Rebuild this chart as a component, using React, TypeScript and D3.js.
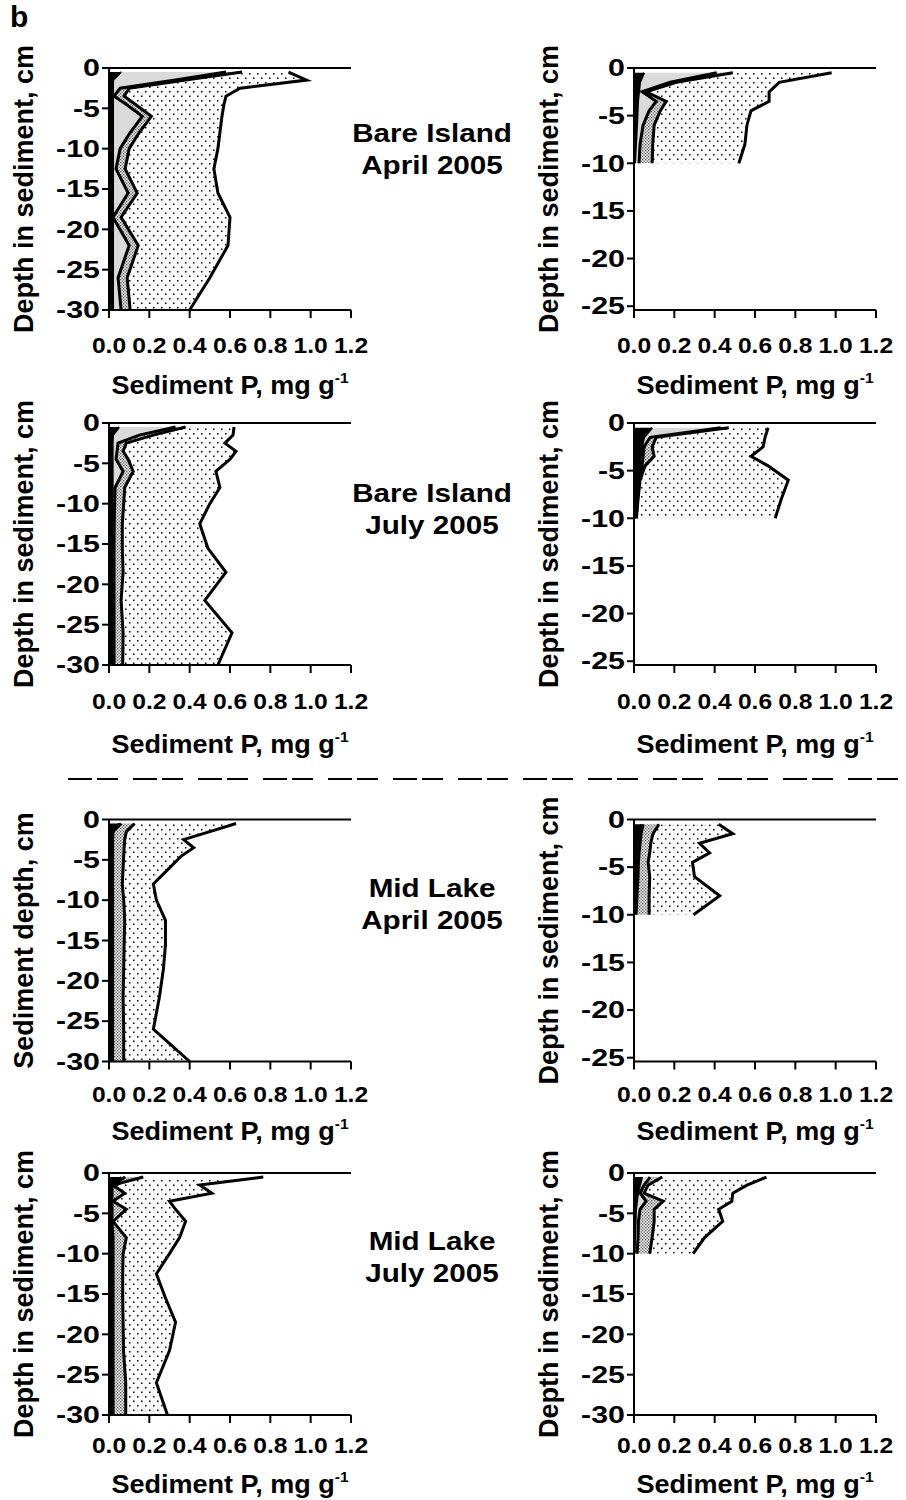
import React from "react";
import * as d3 from "d3";

// depth of each slice mid-point, cm below sediment surface
const depth30 = [0.5, 1.5, 2.5, 3.5, 4.5, 6, 8, 10, 12.5, 15.5, 18.5, 22, 26, 30];
const depth10 = [0.5, 1.5, 2.5, 3.5, 4.5, 6, 8, 10];

const xTicks = [0, 0.2, 0.4, 0.6, 0.8, 1.0, 1.2];
const yTicks30 = [0, -5, -10, -15, -20, -25, -30];
const yTicks25 = [0, -5, -10, -15, -20, -25];

// cumulative sediment P, mg g-1 : black / grey / crosshatch / dotted (total)
// Bare Island, April 2005
const biAprLBlack = [0.06, 0.02, 0.02, 0.02, 0.02, 0.02, 0.02, 0.02, 0.02, 0.02, 0.02, 0.02, 0.02, 0.02];
const biAprLGrey = [0.58, 0.33, 0.055, 0.025, 0.085, 0.165, 0.105, 0.055, 0.035, 0.095, 0.02, 0.1, 0.045, 0.06];
const biAprLHatch = [0.66, 0.38, 0.1, 0.075, 0.13, 0.21, 0.15, 0.1, 0.08, 0.14, 0.06, 0.145, 0.09, 0.105];
const biAprLTotal = [0.89, 0.98, 0.65, 0.58, 0.57, 0.56, 0.55, 0.54, 0.52, 0.54, 0.6, 0.59, 0.5, 0.4];

const biAprRBlack = [0.05, 0.03, 0.025, 0.02, 0.018, 0.015, 0.01, 0.005];
const biAprRGrey = [0.41, 0.18, 0.04, 0.11, 0.075, 0.045, 0.03, 0.025];
const biAprRHatch = [0.49, 0.21, 0.06, 0.16, 0.13, 0.1, 0.093, 0.09];
const biAprRTotal = [0.98, 0.72, 0.67, 0.67, 0.58, 0.56, 0.55, 0.52];

// Bare Island, July 2005
const biJulLBlack = [0.05, 0.02, 0.018, 0.018, 0.018, 0.018, 0.018, 0.018, 0.018, 0.018, 0.018, 0.018, 0.018, 0.018];
const biJulLGrey = [0.33, 0.15, 0.045, 0.04, 0.035, 0.07, 0.03, 0.028, 0.026, 0.025, 0.025, 0.025, 0.025, 0.025];
const biJulLHatch = [0.38, 0.22, 0.085, 0.07, 0.095, 0.12, 0.078, 0.073, 0.066, 0.066, 0.07, 0.06, 0.07, 0.068];
const biJulLTotal = [0.62, 0.615, 0.575, 0.63, 0.6, 0.53, 0.55, 0.5, 0.45, 0.49, 0.58, 0.475, 0.61, 0.54];

const biJulRBlack = [0.09, 0.05, 0.04, 0.035, 0.03, 0.02, 0.015, 0.005];
const biJulRGrey = [0.43, 0.08, 0.05, 0.045, 0.04, 0.025, 0.018, 0.01];
const biJulRHatch = [0.47, 0.11, 0.09, 0.1, 0.055, 0.03, 0.02, 0.012];
const biJulRTotal = [0.665, 0.65, 0.64, 0.58, 0.665, 0.765, 0.73, 0.7];

// Mid Lake, April 2005
const mlAprLBlack = [0.05, 0.015, 0.015, 0.015, 0.015, 0.015, 0.015, 0.015, 0.015, 0.015, 0.015, 0.015, 0.015, 0.015];
const mlAprLGrey = [0.06, 0.02, 0.018, 0.018, 0.018, 0.018, 0.018, 0.018, 0.018, 0.018, 0.018, 0.018, 0.018, 0.018];
const mlAprLHatch = [0.127, 0.086, 0.078, 0.075, 0.073, 0.07, 0.066, 0.073, 0.078, 0.075, 0.073, 0.07, 0.073, 0.073];
const mlAprLTotal = [0.63, 0.5, 0.37, 0.42, 0.36, 0.3, 0.22, 0.235, 0.28, 0.28, 0.27, 0.25, 0.22, 0.4];

const mlAprRBlack = [0.035, 0.025, 0.02, 0.018, 0.015, 0.012, 0.008, 0.003];
const mlAprRGrey = [0.045, 0.035, 0.03, 0.025, 0.022, 0.02, 0.015, 0.01];
const mlAprRHatch = [0.124, 0.094, 0.083, 0.078, 0.07, 0.078, 0.075, 0.075];
const mlAprRTotal = [0.42, 0.49, 0.325, 0.375, 0.29, 0.3, 0.425, 0.295];

// Mid Lake, July 2005
const mlJulLBlack = [0.06, 0.012, 0.012, 0.012, 0.012, 0.012, 0.012, 0.012, 0.012, 0.012, 0.012, 0.012, 0.012, 0.012];
const mlJulLGrey = [0.08, 0.015, 0.015, 0.015, 0.015, 0.015, 0.02, 0.02, 0.02, 0.02, 0.02, 0.02, 0.02, 0.02];
const mlJulLHatch = [0.17, 0.02, 0.078, 0.02, 0.086, 0.02, 0.086, 0.07, 0.068, 0.068, 0.07, 0.072, 0.083, 0.083];
const mlJulLTotal = [0.765, 0.45, 0.51, 0.3, 0.33, 0.38, 0.35, 0.3, 0.235, 0.28, 0.33, 0.3, 0.235, 0.29];

const mlJulRBlack = [0.04, 0.03, 0.02, 0.015, 0.01, 0.008, 0.005, 0.003];
const mlJulRGrey = [0.08, 0.05, 0.03, 0.06, 0.03, 0.022, 0.02, 0.015];
const mlJulRHatch = [0.14, 0.07, 0.05, 0.145, 0.1, 0.1, 0.09, 0.078];
const mlJulRTotal = [0.657, 0.56, 0.49, 0.485, 0.42, 0.44, 0.35, 0.293];

const siteLabels = [
  ["Bare Island", "April 2005"],
  ["Bare Island", "July 2005"],
  ["Mid Lake", "April 2005"],
  ["Mid Lake", "July 2005"],
];

const W = 906;
const H = 1500;
const plotW = 242;
const plotH = 242;
const colLeft = [109, 634];
const rowTop = [68, 423, 819.5, 1173];
const tickLabelY = [353, 709, 1102, 1453];
const titleY = [394, 753, 1140, 1493];
const siteY = [142, 502, 897, 1250];
const font = "'Liberation Sans', Arial, Helvetica, sans-serif";

const panels = [
  { row: 0, col: 0, depths: depth30, yMin: -30, yTicks: yTicks30, ylab: "Depth in sediment, cm", layers: [biAprLBlack, biAprLGrey, biAprLHatch, biAprLTotal] },
  { row: 0, col: 1, depths: depth10, yMin: -25.4, yTicks: yTicks25, ylab: "Depth in sediment, cm", layers: [biAprRBlack, biAprRGrey, biAprRHatch, biAprRTotal] },
  { row: 1, col: 0, depths: depth30, yMin: -30, yTicks: yTicks30, ylab: "Depth in sediment, cm", layers: [biJulLBlack, biJulLGrey, biJulLHatch, biJulLTotal] },
  { row: 1, col: 1, depths: depth10, yMin: -25.4, yTicks: yTicks25, ylab: "Depth in sediment, cm", layers: [biJulRBlack, biJulRGrey, biJulRHatch, biJulRTotal] },
  { row: 2, col: 0, depths: depth30, yMin: -30, yTicks: yTicks30, ylab: "Sediment depth, cm", layers: [mlAprLBlack, mlAprLGrey, mlAprLHatch, mlAprLTotal] },
  { row: 2, col: 1, depths: depth10, yMin: -25.4, yTicks: yTicks25, ylab: "Depth in sediment, cm", layers: [mlAprRBlack, mlAprRGrey, mlAprRHatch, mlAprRTotal] },
  { row: 3, col: 0, depths: depth30, yMin: -30, yTicks: yTicks30, ylab: "Depth in sediment, cm", layers: [mlJulLBlack, mlJulLGrey, mlJulLHatch, mlJulLTotal] },
  { row: 3, col: 1, depths: depth10, yMin: -30, yTicks: yTicks30, ylab: "Depth in sediment, cm", layers: [mlJulRBlack, mlJulRGrey, mlJulRHatch, mlJulRTotal] },
];

const fills = ["#000", "#dadada", "url(#hatch)", "url(#dots)"];

function Panel({ p }) {
  const left = colLeft[p.col];
  const top = rowTop[p.row];
  const x = d3.scaleLinear().domain([0, 1.2]).range([left, left + plotW]);
  const y = d3.scaleLinear().domain([0, p.yMin]).range([top, top + plotH]);
  const idx = d3.range(p.depths.length);
  const zero = p.depths.map(() => 0);
  const bounds = [zero, ...p.layers];

  const area = (lo, hi) =>
    d3
      .area()
      .y((i) => y(-p.depths[i]))
      .x0((i) => x(lo[i]))
      .x1((i) => x(hi[i]))(idx);
  const line = (b) =>
    d3
      .line()
      .x((i) => x(b[i]))
      .y((i) => y(-p.depths[i]))(idx);

  const x0 = x(0);
  const yb = y(p.yMin);

  return (
    <g>
      {/* layers, innermost last so thin ones stay on top */}
      {[3, 2, 1, 0].map((k) => (
        <path key={"a" + k} d={area(bounds[k], bounds[k + 1])} fill={fills[k]} stroke="none" />
      ))}
      {[0, 1, 2, 3].map((k) => (
        <path key={"l" + k} d={line(p.layers[k])} fill="none" stroke="#000" strokeWidth={k === 0 ? 2 : 3} strokeLinejoin="miter" />
      ))}

      {/* axes */}
      <line x1={x0} x2={x(1.2)} y1={y(0)} y2={y(0)} stroke="#000" strokeWidth={2} />
      <line x1={x0} x2={x(1.2)} y1={yb} y2={yb} stroke="#000" strokeWidth={2} />
      <line x1={x0} x2={x0} y1={y(0)} y2={yb} stroke="#000" strokeWidth={2} />
      {xTicks.map((t) => (
        <g key={"xt" + t}>
          <line x1={x(t)} x2={x(t)} y1={yb} y2={yb + 8} stroke="#000" strokeWidth={2} />
          <text
            transform={`translate(${x(t)},${tickLabelY[p.row]}) scale(1.12,1)`}
            textAnchor="middle"
            fontSize={22}
            fontWeight="bold"
            fontFamily={font}
          >
            {t.toFixed(1)}
          </text>
        </g>
      ))}
      {p.yTicks.map((t) => (
        <g key={"yt" + t}>
          <line x1={x0 - 7} x2={x0} y1={y(t)} y2={y(t)} stroke="#000" strokeWidth={2} />
          <text
            transform={`translate(${x0 - 9},${y(t)}) scale(1.32,1)`}
            dy="0.36em"
            textAnchor="end"
            fontSize={23}
            fontWeight="bold"
            fontFamily={font}
          >
            {t}
          </text>
        </g>
      ))}

      <text
        transform={`translate(${x0 - 76},${top + plotH / 2}) rotate(-90)`}
        textAnchor="middle"
        fontSize={27}
        fontWeight="bold"
        fontFamily={font}
      >
        {p.ylab}
      </text>
      <text
        transform={`translate(${left + plotW / 2},${titleY[p.row]}) scale(1.04,1)`}
        textAnchor="middle"
        fontSize={26}
        fontWeight="bold"
        fontFamily={font}
      >
        Sediment P, mg g
        <tspan dy={-11} fontSize={15}>
          -1
        </tspan>
      </text>
    </g>
  );
}

export default function App() {
  return (
    <svg width={W} height={H} style={{ position: "absolute", left: 0, top: 0, background: "#fff" }}>
      <defs>
        <pattern id="dots" width={8} height={9} patternUnits="userSpaceOnUse">
          <rect width={8} height={9} fill="#fff" />
          <rect x={1} y={1} width={1.5} height={1.5} fill="#000" />
          <rect x={5} y={5.5} width={1.5} height={1.5} fill="#000" />
        </pattern>
        <pattern id="hatch" width={3} height={3} patternUnits="userSpaceOnUse">
          <rect width={3} height={3} fill="#f2f2f2" />
          <rect x={0} y={0} width={1.3} height={1.3} fill="#555" />
          <rect x={1.5} y={1.5} width={1.3} height={1.3} fill="#555" />
        </pattern>
      </defs>
      <rect width={W} height={H} fill="#fff" />

      <text x={10} y={27} fontSize={30} fontWeight="bold" fontFamily={font}>
        b
      </text>

      {panels.map((p, i) => (
        <Panel key={i} p={p} />
      ))}

      {siteLabels.map((lab, r) =>
        lab.map((s, j) => (
          <text
            key={r + "-" + j}
            transform={`translate(432,${siteY[r] + j * 32}) scale(1.14,1)`}
            textAnchor="middle"
            fontSize={26}
            fontWeight="bold"
            fontFamily={font}
          >
            {s}
          </text>
        ))
      )}

      <line x1={68} x2={900} y1={779} y2={779} stroke="#000" strokeWidth={2} strokeDasharray="24 5 21 15" />
    </svg>
  );
}
